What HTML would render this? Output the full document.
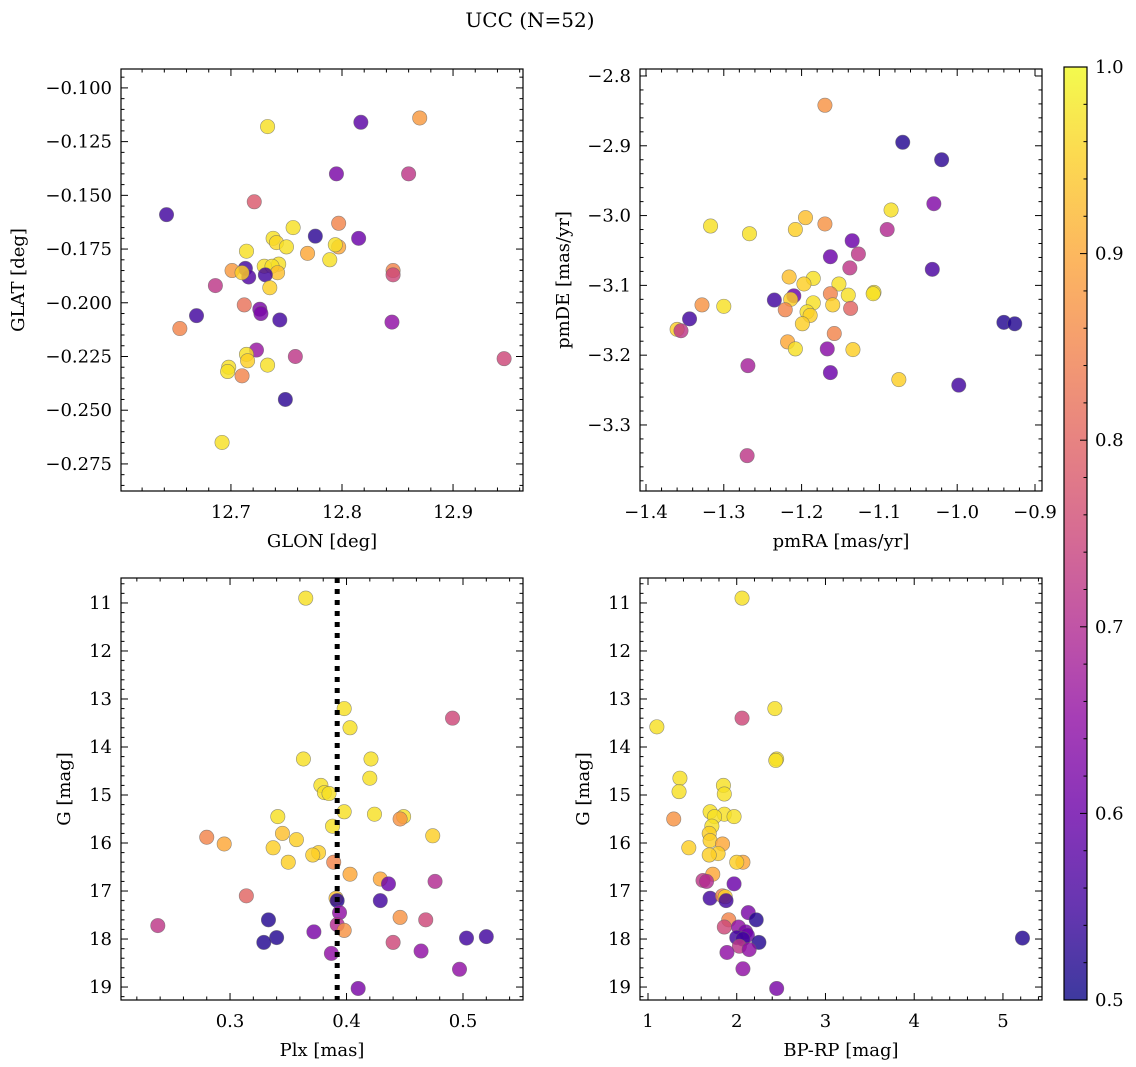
<!DOCTYPE html>
<html><head><meta charset="utf-8"><style>
html,body{margin:0;padding:0;background:#fff}
svg{display:block;font-family:"DejaVu Serif","Liberation Serif",serif}
</style></head><body>
<svg id="fig" width="1136" height="1067" viewBox="0 0 1136 1067">
<defs>
<linearGradient id="cbgrad" x1="0" y1="1" x2="0" y2="0">
<stop offset="0" stop-color="#0d0887"/><stop offset="0.1" stop-color="#41049d"/><stop offset="0.2" stop-color="#6a00a8"/><stop offset="0.3" stop-color="#8f0da4"/><stop offset="0.4" stop-color="#b12a90"/><stop offset="0.5" stop-color="#cc4778"/><stop offset="0.6" stop-color="#e16462"/><stop offset="0.7" stop-color="#f2844b"/><stop offset="0.8" stop-color="#fca636"/><stop offset="0.9" stop-color="#fcce25"/><stop offset="1" stop-color="#f0f921"/>
</linearGradient>
</defs>
<text x="530" y="27" font-size="20" text-anchor="middle">UCC (N=52)</text>
</svg>
<script>
// Panel 1: GLON vs GLAT
const glon=[12.642,12.733,12.817,12.870,12.795,12.860,12.721,12.797,12.756,12.815,12.738,12.741,12.776,12.750,12.797,12.794,12.769,12.714,12.789,12.713,12.730,12.743,12.737,12.742,12.731,12.716,12.701,12.710,12.846,12.846,12.686,12.735,12.712,12.726,12.727,12.669,12.744,12.845,12.654,12.723,12.714,12.715,12.758,12.946,12.733,12.698,12.697,12.710,12.749,12.692];
const glat=[-0.159,-0.118,-0.116,-0.114,-0.140,-0.140,-0.153,-0.163,-0.165,-0.170,-0.170,-0.172,-0.169,-0.174,-0.174,-0.173,-0.177,-0.176,-0.180,-0.184,-0.183,-0.182,-0.183,-0.186,-0.187,-0.188,-0.185,-0.186,-0.185,-0.187,-0.192,-0.193,-0.201,-0.203,-0.205,-0.206,-0.208,-0.209,-0.212,-0.222,-0.224,-0.227,-0.225,-0.226,-0.229,-0.230,-0.232,-0.234,-0.245,-0.265];
const prob1=[0.55,0.97,0.58,0.88,0.62,0.72,0.78,0.85,0.97,0.6,0.97,0.96,0.53,0.97,0.9,0.97,0.9,0.97,0.97,0.55,0.97,0.97,0.97,0.93,0.55,0.57,0.88,0.95,0.85,0.75,0.72,0.95,0.82,0.62,0.62,0.55,0.55,0.65,0.85,0.66,0.97,0.95,0.72,0.75,0.97,0.97,0.97,0.85,0.53,0.97];
// Panel 2: pmRA vs pmDE
const pmra=[-1.17,-1.07,-1.02,-1.03,-1.085,-1.195,-1.17,-1.317,-1.208,-1.090,-1.267,-1.135,-1.163,-1.127,-1.138,-1.032,-1.216,-1.185,-1.197,-1.152,-1.163,-1.107,-1.108,-1.140,-1.210,-1.214,-1.235,-1.185,-1.160,-1.328,-1.300,-1.221,-1.137,-1.193,-1.189,-1.199,-1.344,-1.360,-1.355,-1.158,-1.218,-1.208,-1.167,-1.134,-0.940,-0.926,-1.269,-1.163,-1.075,-0.998,-1.270];
const pmde=[-2.842,-2.895,-2.920,-2.983,-2.992,-3.003,-3.012,-3.015,-3.020,-3.020,-3.026,-3.036,-3.059,-3.055,-3.075,-3.077,-3.088,-3.090,-3.098,-3.098,-3.112,-3.110,-3.112,-3.114,-3.115,-3.120,-3.121,-3.125,-3.128,-3.128,-3.130,-3.135,-3.133,-3.138,-3.143,-3.155,-3.148,-3.163,-3.165,-3.169,-3.181,-3.191,-3.191,-3.192,-3.153,-3.155,-3.215,-3.225,-3.235,-3.243,-3.344];
const prob2=[0.87,0.52,0.53,0.63,0.97,0.93,0.87,0.97,0.95,0.70,0.97,0.60,0.60,0.72,0.72,0.56,0.93,0.97,0.95,0.97,0.85,0.97,0.97,0.97,0.6,0.95,0.55,0.97,0.95,0.87,0.97,0.85,0.8,0.97,0.95,0.95,0.55,0.95,0.72,0.85,0.9,0.97,0.64,0.95,0.52,0.52,0.68,0.60,0.95,0.55,0.72];
// Panel 3: Plx vs G
const plx=[0.365,0.398,0.403,0.491,0.363,0.421,0.420,0.378,0.381,0.385,0.341,0.424,0.398,0.449,0.446,0.388,0.345,0.474,0.280,0.357,0.295,0.337,0.376,0.371,0.350,0.389,0.403,0.429,0.476,0.436,0.314,0.391,0.392,0.429,0.394,0.446,0.468,0.333,0.392,0.238,0.398,0.372,0.340,0.503,0.520,0.329,0.440,0.464,0.387,0.497,0.410];
const gmag3=[10.9,13.2,13.6,13.4,14.25,14.25,14.65,14.8,14.95,14.97,15.45,15.4,15.35,15.45,15.5,15.65,15.8,15.85,15.88,15.93,16.02,16.1,16.2,16.25,16.4,16.4,16.65,16.75,16.8,16.85,17.1,17.15,17.2,17.2,17.45,17.55,17.6,17.6,17.7,17.72,17.82,17.85,17.97,17.98,17.95,18.07,18.07,18.25,18.3,18.63,19.03];
const prob3=[0.97,0.97,0.97,0.75,0.97,0.97,0.97,0.97,0.97,0.97,0.97,0.97,0.97,0.97,0.87,0.97,0.93,0.95,0.85,0.95,0.9,0.95,0.95,0.95,0.95,0.85,0.9,0.9,0.7,0.6,0.8,0.93,0.52,0.55,0.65,0.87,0.75,0.52,0.7,0.72,0.87,0.62,0.52,0.55,0.55,0.52,0.75,0.65,0.65,0.65,0.62];
// Panel 4: BP-RP vs G
const bprp=[2.06,1.10,2.06,2.43,2.45,2.44,1.36,1.35,1.85,1.86,1.70,1.86,1.97,1.75,1.29,1.72,1.69,1.70,1.84,1.46,1.79,1.69,2.07,2.00,1.73,1.62,1.66,1.97,1.70,1.84,1.87,1.88,2.13,1.91,2.22,1.86,2.02,2.10,2.12,2.00,2.07,2.25,2.03,2.14,1.89,2.07,2.45,5.22];
const gmag4=[10.9,13.58,13.4,13.2,14.25,14.28,14.65,14.93,14.8,14.98,15.35,15.4,15.45,15.45,15.5,15.65,15.8,15.95,16.02,16.1,16.22,16.25,16.4,16.4,16.65,16.78,16.8,16.85,17.15,17.1,17.12,17.2,17.45,17.6,17.6,17.75,17.75,17.85,17.92,17.97,18.0,18.07,18.15,18.22,18.28,18.62,19.03,17.98];
const prob4=[0.97,0.97,0.75,0.97,0.97,0.97,0.97,0.97,0.97,0.97,0.97,0.97,0.97,0.97,0.87,0.97,0.95,0.95,0.9,0.95,0.95,0.95,0.9,0.95,0.9,0.72,0.7,0.6,0.55,0.85,0.95,0.55,0.62,0.85,0.52,0.75,0.65,0.62,0.6,0.55,0.55,0.52,0.72,0.65,0.65,0.65,0.62,0.52];
const plxLine=0.392;

const NS="http://www.w3.org/2000/svg";
const svg=document.getElementById('fig');
function mk(tag,attrs,parent){const e=document.createElementNS(NS,tag);for(const k in attrs)e.setAttribute(k,attrs[k]);(parent||svg).appendChild(e);return e;}
const stops=[[13,8,135],[65,4,157],[106,0,168],[143,13,164],[177,42,144],[204,71,120],[225,100,98],[242,132,75],[252,166,54],[252,206,37],[240,249,33]];
function cmap(p){let t=(p-0.5)/0.5;t=Math.max(0,Math.min(1,t))*10;const i=Math.min(9,Math.floor(t)),f=t-i;const a=stops[i],b=stops[i+1];return 'rgb('+a.map((v,k)=>Math.round(v+(b[k]-v)*f)).join(',')+')';}
const minus=s=>s.replace('-','\u2212');
const FS=18;

function panel(name,box,xr,yr,inv,xs,ys,ps,xt,xmin,yt,ymin,xfmt,yfmt,xlabel,ylabel,ylabX){
  const g=mk('g',{});
  
  
  const X=v=>box[0]+(v-xr[0])/(xr[1]-xr[0])*(box[1]-box[0]);
  const Y=inv?(v=>box[2]+(v-yr[0])/(yr[1]-yr[0])*(box[3]-box[2])):(v=>box[3]-(v-yr[0])/(yr[1]-yr[0])*(box[3]-box[2]));
  const pts=mk('g',{},g);
  
  
  for(let i=0;i<xs.length;i++){
    const c=mk('circle',{cx:X(xs[i]),cy:Y(ys[i]),r:7.2,fill:cmap(ps[i]),'fill-opacity':0.82,stroke:'#666','stroke-width':0.6,'stroke-opacity':0.7},pts);
    
    
  }
  const fr=mk('rect',{x:box[0],y:box[2],width:box[1]-box[0],height:box[3]-box[2],fill:'none',stroke:'#000','stroke-width':1.2},g);
  
  
  const tk=mk('g',{stroke:'#000','stroke-width':1},g);
  
  
  for(let v=xmin[0];v<=xmin[1]+1e-9;v+=xmin[2]){const x=X(v);if(x<box[0]-0.5||x>box[1]+0.5)continue;
    const major=xt.some(t=>Math.abs(t-v)<1e-6);const L=major?7:3.5;
    mk('line',{x1:x,x2:x,y1:box[3],y2:box[3]-L},tk);mk('line',{x1:x,x2:x,y1:box[2],y2:box[2]+L},tk);}
  for(let v=ymin[0];v<=ymin[1]+1e-9;v+=ymin[2]){const y=Y(v);if(y<box[2]-0.5||y>box[3]+0.5)continue;
    const major=yt.some(t=>Math.abs(t-v)<1e-6);const L=major?7:3.5;
    mk('line',{x1:box[0],x2:box[0]+L,y1:y,y2:y},tk);mk('line',{x1:box[1],x2:box[1]-L,y1:y,y2:y},tk);}
  xt.forEach(v=>{const t=mk('text',{x:X(v),y:box[3]+27,'font-size':FS,'text-anchor':'middle'},g);t.textContent=minus(xfmt(v));
    
    });
  yt.forEach(v=>{const t=mk('text',{x:box[0]-9,y:Y(v)+6,'font-size':FS,'text-anchor':'end'},g);t.textContent=minus(yfmt(v));
    
    });
  const xl=mk('text',{x:(box[0]+box[1])/2,y:box[3]+56,'font-size':FS,'text-anchor':'middle'},g);xl.textContent=xlabel;
  
  
  const cy=(box[2]+box[3])/2;
  const yl=mk('text',{x:ylabX,y:cy,'font-size':FS,'text-anchor':'middle',transform:'rotate(-90 '+ylabX+' '+cy+')'},g);yl.textContent=ylabel;
  
  
  return {X,Y,g};
}
const f1=v=>v.toFixed(1),f3=v=>v.toFixed(3),f0=v=>v.toFixed(0);
panel('panel-glon-glat',[121,523,69,491],[12.601,12.963],[-0.2876,-0.0912],false,glon,glat,prob1,
  [12.7,12.8,12.9],[12.6,12.96,0.02],[-0.275,-0.25,-0.225,-0.2,-0.175,-0.15,-0.125,-0.1],[-0.285,-0.09,0.005],f1,f3,'GLON [deg]','GLAT [deg]',24);
panel('panel-pmra-pmde',[640,1042,69,491],[-1.4077,-0.891],[-3.3946,-2.79],false,pmra,pmde,prob2,
  [-1.4,-1.3,-1.2,-1.1,-1.0,-0.9],[-1.4,-0.9,0.02],[-3.3,-3.2,-3.1,-3.0,-2.9,-2.8],[-3.38,-2.79,0.02],f1,f1,'pmRA [mas/yr]','pmDE [mas/yr]',569);
const p3=panel('panel-plx-g',[121,523,578,1000],[0.2064,0.5515],[10.48,19.27],true,plx,gmag3,prob3,
  [0.3,0.4,0.5],[0.22,0.55,0.02],[11,12,13,14,15,16,17,18,19],[10.6,19.2,0.2],f1,f0,'Plx [mas]','G [mag]',70);
panel('panel-bprp-g',[640,1042,578,1000],[0.91,5.44],[10.48,19.27],true,bprp,gmag4,prob4,
  [1,2,3,4,5],[1,5.4,0.2],[11,12,13,14,15,16,17,18,19],[10.6,19.2,0.2],f0,f0,'BP-RP [mag]','G [mag]',589);
const vl=mk('line',{x1:p3.X(plxLine),x2:p3.X(plxLine),y1:578,y2:1000,stroke:'#000','stroke-width':5,'stroke-dasharray':'5 6'},p3.g);



// colorbar
const cbTicks=[0.5,0.6,0.7,0.8,0.9,1.0];
const cb=mk('g',{});


mk('rect',{x:1064,y:67,width:23,height:933,fill:'url(#cbgrad)','fill-opacity':0.8},cb);
mk('rect',{x:1064,y:67,width:23,height:933,fill:'none',stroke:'#000','stroke-width':1.2},cb);
const CY=v=>1000-(v-0.5)/0.5*933;
for(let v=0.5;v<=1.0001;v+=0.02){const major=cbTicks.some(t=>Math.abs(t-v)<1e-6);mk('line',{x1:1087,x2:1087-(major?7:3.5),y1:CY(v),y2:CY(v),stroke:'#000'},cb);}
cbTicks.forEach(v=>{const t=mk('text',{x:1095,y:CY(v)+6,'font-size':FS},cb);t.textContent=v.toFixed(1);
  
  });
</script>
</body></html>
